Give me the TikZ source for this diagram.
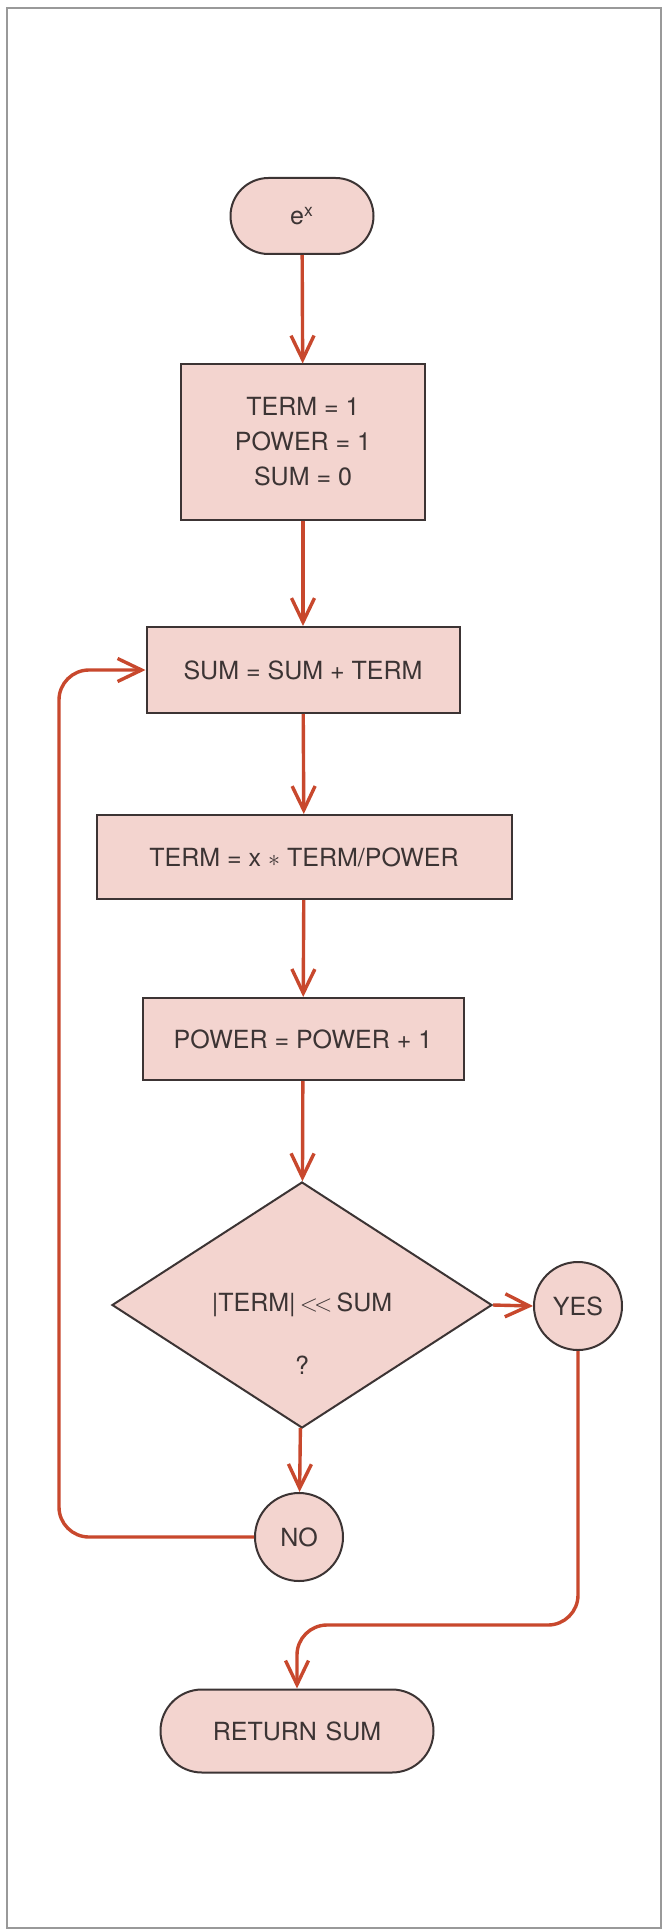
\documentclass[tikz,border=0pt]{standalone}
\usepackage{fontspec}
\setmainfont{TeX Gyre Heros}
\definecolor{boxpink}{HTML}{F3D4CF}
\definecolor{flowred}{HTML}{C8482D}
\definecolor{inkgray}{HTML}{3C3434}
\usetikzlibrary{arrows.meta,shapes.geometric,shapes.misc}

\begin{document}
\begin{tikzpicture}[
  x=0.5pt, y=-0.5pt,
  procbox/.style={rectangle, draw=inkgray, line width=1pt, fill=boxpink,
    text=inkgray, align=center, inner sep=0pt,
    font=\fontsize{12.5}{17.5}\selectfont},
  endbox/.style={procbox, rounded rectangle},
  testbox/.style={procbox, diamond, aspect=1.5},
  ansbox/.style={procbox, circle, minimum size=44pt},
  flow/.style={draw=flowred, line width=1.7pt,
    -{Straight Barb[length=12pt,width=11.5pt]}}
]
  % page and frame
  \path[fill=white] (0,0) rectangle (664,1931);
  \draw[gray!80, line width=0.8pt] (7,8) rectangle (661,1928);

  \node[endbox, minimum width=71.5pt, minimum height=38pt] (start) at (302,216) {e\textsuperscript{x}};
  \node[procbox, minimum width=122pt, minimum height=77.5pt] (init) at (303,442) {TERM = 1\\POWER = 1\\SUM = 0};
  \node[procbox, minimum width=156.5pt, minimum height=43pt] (addterm) at (303,670) {SUM = SUM + TERM};
  \node[procbox, minimum width=207.5pt, minimum height=42pt] (nextterm) at (304,857) {TERM = x $\ast$ TERM/POWER};
  \node[procbox, minimum width=160.5pt, minimum height=41pt] (nextpow) at (303,1039) {POWER = POWER + 1};
  \node[testbox, minimum width=190pt, minimum height=123pt,
    label={[text=inkgray, font=\fontsize{12.5}{15}\selectfont, yshift=-30pt]center:?}] (test) at (302,1305) {|TERM|\,$<\!<$\,SUM};
  \node[ansbox] (yes) at (578,1306) {YES};
  \node[ansbox] (no) at (299,1537) {NO};
  \node[endbox, minimum width=136.5pt, minimum height=41.5pt] (ret) at (297,1731) {RETURN\hspace{0.35em}SUM};

  \coordinate (loopcorner) at (59,1537);
  \coordinate (yesturn) at (582,1625);

  \draw[flow] (start) -- (init);
  \draw[flow] (init) -- (addterm);
  \draw[flow] (addterm) -- (nextterm);
  \draw[flow] (nextterm) -- (nextpow);
  \draw[flow] (nextpow) -- (test);
  \draw[flow] (test) -- (no);
  \draw[flow] (test.east) -- (yes.west);
  % back to the sum
  \draw[flow, rounded corners=15pt] (no.west) -- (loopcorner) |- (addterm.west);
  \draw[flow, rounded corners=15pt] (yes.south) -- (yes.south |- yesturn) -| (ret.north);
\end{tikzpicture}
\end{document}
